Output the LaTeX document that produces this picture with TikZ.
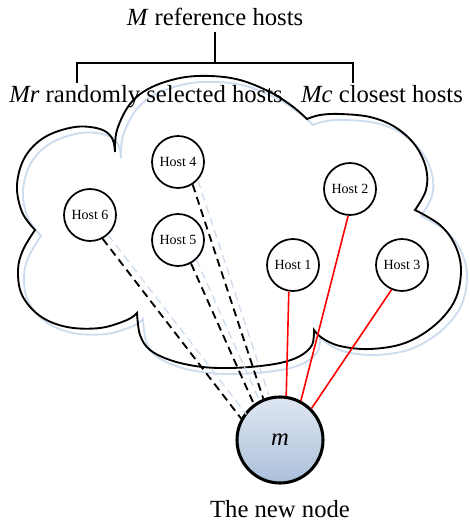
\documentclass[tikz,border=0pt]{standalone}
\usepackage{fontspec}
\setmainfont{Liberation Serif}
\definecolor{shadowblue}{RGB}{205,220,238}
\definecolor{mtop}{RGB}{222,230,242}
\definecolor{mbottom}{RGB}{172,192,218}
\tikzset{
  bigtext/.style={font=\fontsize{18.5}{20}\selectfont, inner sep=0pt},
  hostnode/.style={draw, circle, line width=1.3pt, minimum size=39pt, inner sep=0pt, fill=white,
    font=\fontsize{10.5}{12}\selectfont},
  newnode/.style={draw, circle, line width=2.3pt, minimum size=64.5pt, inner sep=0pt,
    top color=mtop, bottom color=mbottom, font=\fontsize{18.5}{20}\selectfont},
  randline/.style={line width=1.4pt, dash pattern={on 6pt off 3.8pt}},
  closeline/.style={color=red, line width=1.2pt},
  bracket/.style={line width=1.1pt},
}
\begin{document}
\begin{tikzpicture}[x=0.75pt,y=0.75pt,yscale=-1]
\useasboundingbox (0,0) rectangle (469,523);

%Shape: Cloud (shadow first, then outline)
\foreach \col/\d in {shadowblue/6,black/0}{
\draw [color=\col, line width=1.4pt, shift={(\d,\d)}]
  plot[smooth, tension=0.6] coordinates {(115,152) (117,130) (130,104) (150,88) (180,78) (210,76) (240,80) (270,92) (292,106) (307,119)}
  -- plot[smooth, tension=0.6] coordinates {(307,119) (320,115) (340,114) (370,117) (395,127) (415,145) (426,168) (426,190) (415,210)}
  -- plot[smooth, tension=0.6] coordinates {(415,210) (440,225) (455,245) (461,270) (455,300) (435,325) (405,343) (370,349) (340,346) (322,338) (314,330)}
  -- plot[smooth, tension=0.6] coordinates {(314,330) (312,345) (300,356) (280,363) (250,367) (220,368) (195,366) (170,360) (150,350) (140,335) (137,313)}
  -- plot[smooth, tension=0.6] coordinates {(137,313) (127,320) (100,328) (67,327) (40,316) (22,295) (18,270) (23,250) (35,230)}
  -- plot[smooth, tension=0.6] coordinates {(35,230) (22,212) (17,185) (25,157) (45,137) (75,127) (100,129) (112,138) (115,152)};
}

% Text Node
\node [bigtext, anchor=base] (ref) at (215,26) {\textit{M} reference hosts};
% Text Node
\node [bigtext, anchor=base] (rand) at (146,103) {\textit{Mr} randomly selected hosts};
% Text Node
\node [bigtext, anchor=base] (close) at (382,103) {\textit{Mc} closest hosts};

%Straight Lines (bracket)
\coordinate (top) at (215,32);
\coordinate (mid) at (215,63);
\coordinate (bl) at (77,63);
\coordinate (br) at (353,63);
\coordinate (blend) at (77,83);
\coordinate (brend) at (353,83);
\draw [bracket] (top) -- (mid);
\draw [bracket] (blend) -- (bl) -- (br) -- (brend);

%Shape: Circle
\node [hostnode] (h1) at (293,265) {Host 1};
\node [hostnode] (h2) at (350,189) {Host 2};
\node [hostnode] (h3) at (402,265) {Host 3};
\node [hostnode] (h4) at (178,162) {Host 4};
\node [hostnode] (h5) at (178,240) {Host 5};
\node [hostnode] (h6) at (90,215) {Host 6};
\node [newnode] (m) at (280,440) {\textit{m}};
% Text Node
\node [bigtext, anchor=base] (newlabel) at (280,517) {The new node};

%Straight Lines (dashed, with shadow)
\foreach \a/\ea/\eb in {h6/-62/151, h5/-61/126, h4/-57/112}{
  \draw [randline, shadowblue, line width=1pt, transform canvas={shift={(4pt,3pt)}}] (\a.\ea) -- (m.\eb);
  \draw [randline] (\a.\ea) -- (m.\eb);
}
%Straight Lines (red)
\draw [closeline] (h1.-99) -- (m.82);
\draw [closeline] (h2.-94) -- (m.62);
\draw [closeline] (h3.-113) -- (m.45);

\end{tikzpicture}
\end{document}
